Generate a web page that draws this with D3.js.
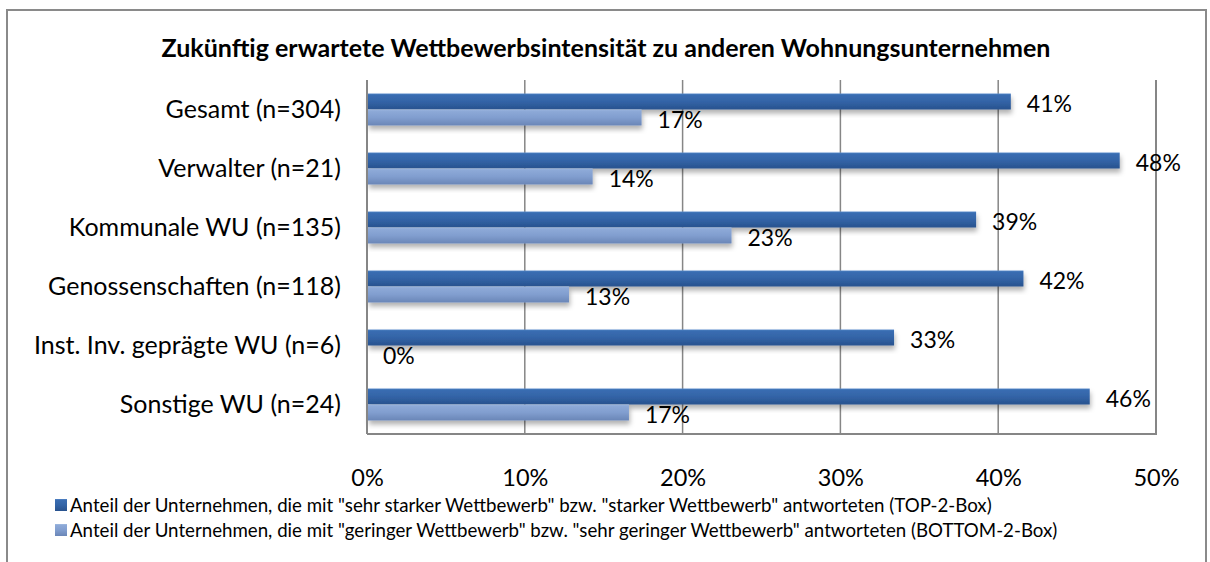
<!DOCTYPE html>
<html>
<head>
<meta charset="utf-8">
<script src="https://cdn.jsdelivr.net/npm/d3@7"></script>
<style>
  body { margin: 0; background: #fff; }
  svg { display: block; font-family: Lato, sans-serif; }
</style>
</head>
<body>
<div id="chart"></div>
<script>
// Daten
var categories = ['Gesamt (n=304)', 'Verwalter (n=21)', 'Kommunale WU (n=135)',
                  'Genossenschaften (n=118)', 'Inst. Inv. geprägte WU (n=6)', 'Sonstige WU (n=24)'];
var seriesNames = ['Anteil der Unternehmen, die mit "sehr starker Wettbewerb" bzw. "starker Wettbewerb" antworteten (TOP-2-Box)',
                   'Anteil der Unternehmen, die mit "geringer Wettbewerb" bzw. "sehr geringer Wettbewerb" antworteten (BOTTOM-2-Box)'];
var topValues = [40.8, 47.7, 38.6, 41.6, 33.4, 45.8];
var bottomValues = [17.4, 14.3, 23.1, 12.8, 0, 16.6];
var xTicks = [0, 10, 20, 30, 40, 50];

var W = 1210, H = 562;
var m = {left: 367, right: 1156, top: 80, bottom: 434};

var svg = d3.select('#chart').append('svg')
    .attr('width', W)
    .attr('height', H);

var defs = svg.append('defs');

// Verläufe wie in Excel
function grad(id, stops) {
    var g = defs.append('linearGradient').attr('id', id)
        .attr('x1', 0).attr('y1', 0).attr('x2', 0).attr('y2', 1);
    stops.forEach(function(s) {
        g.append('stop').attr('offset', s[0]).attr('stop-color', s[1]);
    });
}
grad('gradTop', [[0, '#5c8ccc'], [0.08, '#3a6db2'], [0.5, '#3364a7'], [1, '#28528e']]);
grad('gradBottom', [[0, '#a7c0e4'], [0.08, '#8eaad8'], [0.5, '#819ecf'], [1, '#6a86b7']]);

var shadow = defs.append('filter').attr('id', 'shadow')
    .attr('x', '-5%').attr('y', '-30%').attr('width', '110%').attr('height', '180%');
shadow.append('feDropShadow')
    .attr('dx', 1).attr('dy', 4)
    .attr('stdDeviation', 2.5)
    .attr('flood-color', '#000')
    .attr('flood-opacity', 0.3);

// Rahmen
svg.append('rect')
    .attr('x', 7).attr('y', 10)
    .attr('width', 1199).attr('height', 600)
    .attr('fill', '#fff')
    .attr('stroke', '#8a8a8a')
    .attr('stroke-width', 2);

// Titel
svg.append('text')
    .attr('x', 606).attr('y', 47)
    .attr('text-anchor', 'middle')
    .attr('dominant-baseline', 'central')
    .style('font-weight', 'bold')
    .style('font-size', '25px')
    .style('fill', '#000')
    .text('Zukünftig erwartete Wettbewerbsintensität zu anderen Wohnungsunternehmen');

var x = d3.scaleLinear().domain([0, 50]).range([m.left, m.right]);
var y = d3.scaleBand().domain(categories).range([m.top, m.bottom])
    .paddingInner(0.458).paddingOuter(0.229);
var ySub = d3.scaleBand().domain([0, 1]).range([0, y.bandwidth()]);

// Gitternetz
svg.append('g').selectAll('line')
    .data(xTicks.slice(1))
    .enter().append('line')
    .attr('x1', function(d) { return x(d); })
    .attr('x2', function(d) { return x(d); })
    .attr('y1', m.top).attr('y2', m.bottom)
    .style('stroke', '#868686')
    .style('stroke-width', 1.5);

// Achsenbeschriftung X
var xAxis = svg.append('g')
    .attr('transform', 'translate(0,' + (m.bottom + 44) + ')')
    .call(d3.axisBottom(x).tickValues(xTicks).tickSize(0).tickPadding(0)
        .tickFormat(function(d) { return d + '%'; }));
xAxis.select('.domain').remove();
xAxis.selectAll('text')
    .attr('dy', '0.35em')
    .style('font-family', 'Lato, sans-serif')
    .style('font-size', '23.5px')
    .style('fill', '#000');

// Kategorien
svg.append('g').selectAll('text')
    .data(categories)
    .enter().append('text')
    .attr('x', m.left - 26)
    .attr('y', function(d) { return y(d) + y.bandwidth() / 2; })
    .attr('dy', '0.35em')
    .attr('text-anchor', 'end')
    .style('font-size', '25px')
    .style('fill', '#000')
    .text(function(d) { return d; });

// Balken
var rows = categories.map(function(c, i) {
    return [{cat: c, s: 0, v: topValues[i]}, {cat: c, s: 1, v: bottomValues[i]}];
});
var flat = [].concat.apply([], rows);

svg.append('g').selectAll('rect')
    .data(flat.filter(function(d) { return d.v > 0; }))
    .enter().append('rect')
    .attr('x', x(0) + 1)
    .attr('y', function(d) { return y(d.cat) + ySub(d.s); })
    .attr('width', function(d) { return x(d.v) - x(0) - 1; })
    .attr('height', ySub.bandwidth())
    .attr('fill', function(d) { return d.s === 0 ? 'url(#gradTop)' : 'url(#gradBottom)'; })
    .attr('filter', 'url(#shadow)');

// Achsen / Plotrahmen
svg.append('line')
    .attr('x1', m.left).attr('x2', m.left)
    .attr('y1', m.top).attr('y2', m.bottom)
    .style('stroke', '#868686').style('stroke-width', 2);
svg.append('line')
    .attr('x1', m.left).attr('x2', m.right + 1)
    .attr('y1', m.bottom).attr('y2', m.bottom)
    .style('stroke', '#868686').style('stroke-width', 2);
svg.append('line')
    .attr('x1', m.right).attr('x2', m.right)
    .attr('y1', m.top).attr('y2', m.bottom)
    .style('stroke', '#868686').style('stroke-width', 2);

// Datenbeschriftungen
svg.append('g').selectAll('text')
    .data(flat)
    .enter().append('text')
    .attr('x', function(d) { return x(d.v) + 16; })
    .attr('y', function(d) { return y(d.cat) + ySub(d.s) + ySub.bandwidth() / 2 + 2; })
    .attr('dy', '0.35em')
    .style('font-size', '23px')
    .style('fill', '#000')
    .text(function(d) { return Math.round(d.v) + '%'; });

// Legende
var legend = svg.append('g').selectAll('g')
    .data(seriesNames)
    .enter().append('g')
    .attr('transform', function(d, i) { return 'translate(55,' + (505 + i * 25) + ')'; });
legend.append('rect')
    .attr('x', 0).attr('y', -6)
    .attr('width', 12).attr('height', 12)
    .attr('fill', function(d, i) { return i === 0 ? 'url(#gradTop)' : 'url(#gradBottom)'; });
legend.append('text')
    .attr('x', 15)
    .attr('dy', '0.35em')
    .style('font-size', '18.7px')
    .style('fill', '#000')
    .text(function(d) { return d; });
</script>
</body>
</html>
